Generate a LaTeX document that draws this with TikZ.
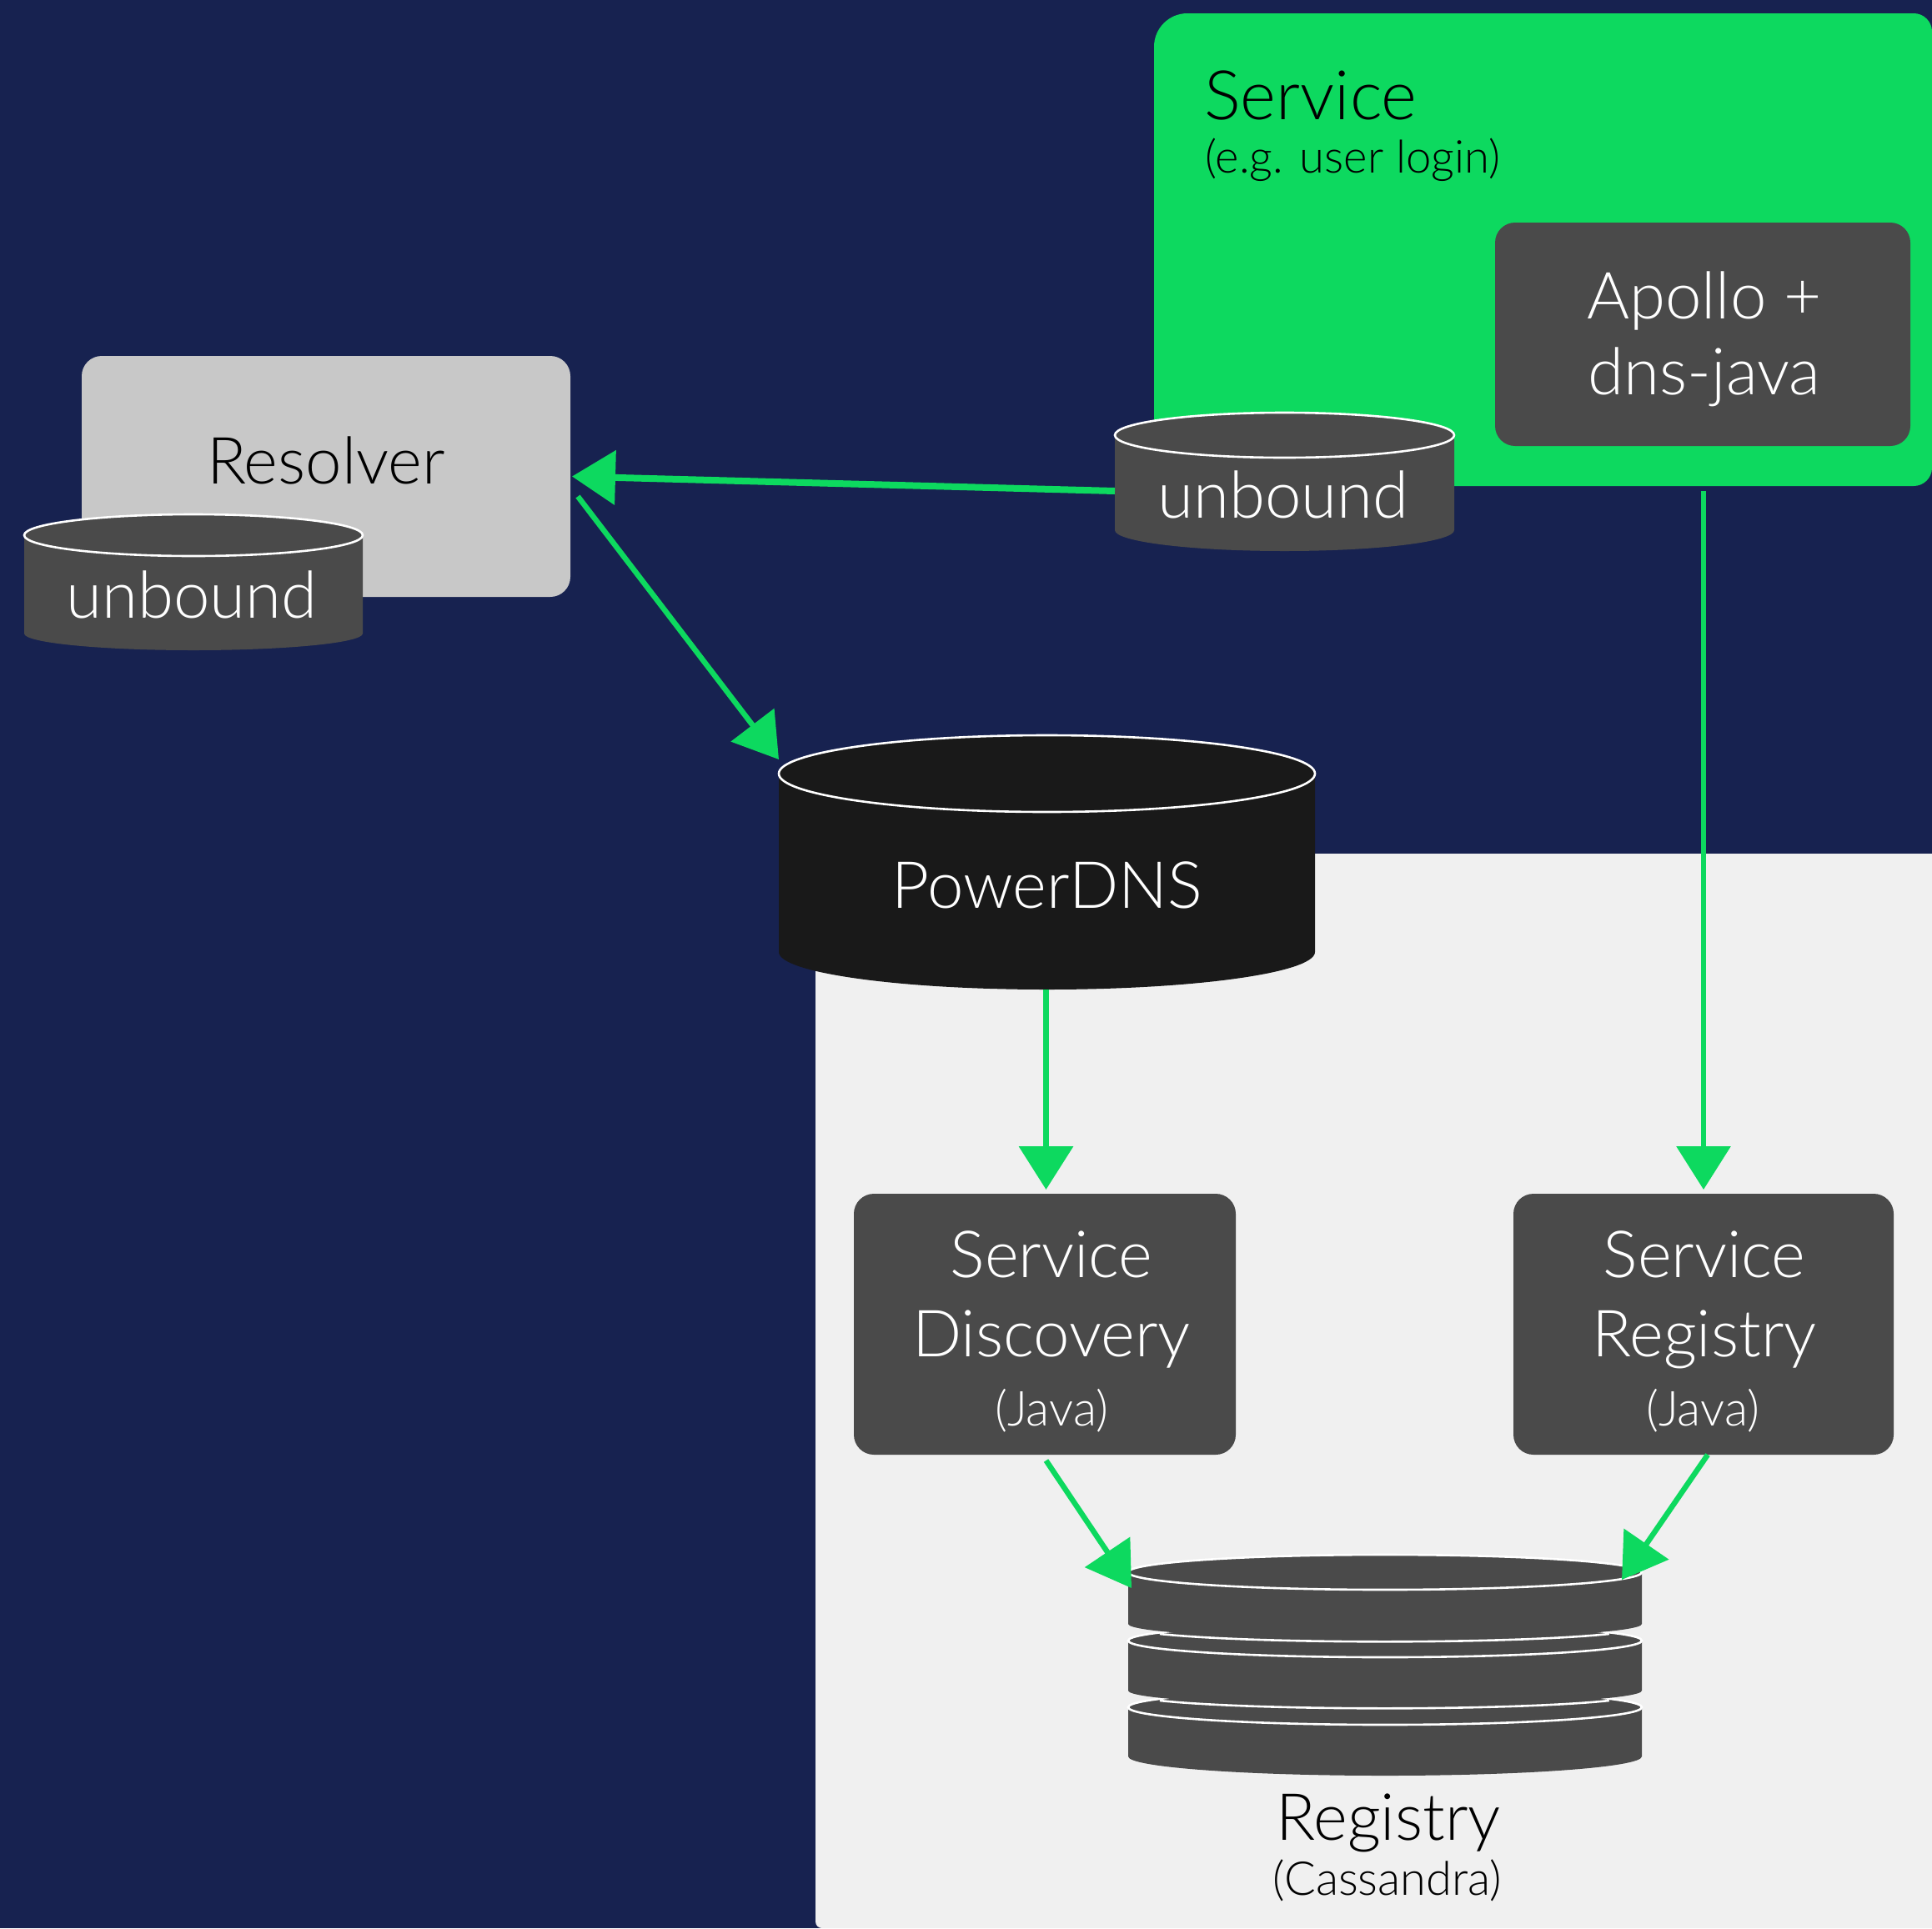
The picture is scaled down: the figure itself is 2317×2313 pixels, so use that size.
\documentclass[tikz,border=0pt]{standalone}
\usepackage{fontspec}
\setmainfont{Lato Light}
\usetikzlibrary{arrows.meta}
\definecolor{navy}{HTML}{172250}
\definecolor{grn}{HTML}{0DD95F}
\definecolor{dgrey}{HTML}{4A4A4A}
\definecolor{blk}{HTML}{191919}
\definecolor{lgrey}{HTML}{C8C8C8}
\definecolor{panel}{HTML}{F0F0F0}
\tikzset{
  big/.style={font=\fontsize{78}{91}\selectfont,inner sep=0pt,align=center},
  small/.style={font=\fontsize{56}{60}\selectfont,inner sep=0pt,align=center},
  smaller/.style={font=\fontsize{58}{60}\selectfont,inner sep=0pt,align=center},
  lbl/.style={anchor=base,text=white},
  lbd/.style={anchor=base,text=black},
  darkbox/.style={fill=dgrey,rounded corners=24pt,inner sep=0pt,outer sep=0pt},
  hold/.style={inner sep=0pt,outer sep=0pt},
  rim/.style={draw=white,line width=2.6pt},
  flow/.style={draw=grn,line width=#1,-{Triangle[length=52pt,width=64pt,fill=grn]}},
}
% \cyl{name}{xl}{xr}{ymid}{ry}{ysidebottom}{ybottom}{colour}
\newcommand{\cyl}[8]{%
  \pgfmathsetmacro{\cylR}{(#3-#2)/2}%
  \pgfmathsetmacro{\cylB}{#7-#6}%
  \pgfmathsetmacro{\cylC}{(#3+#2)/2}%
  \pgfmathsetmacro{\cylT}{#4-#5}%
  \pgfmathsetmacro{\cylM}{(\cylT+#7)/2}%
  \pgfmathsetmacro{\cylW}{#3-#2}%
  \pgfmathsetmacro{\cylH}{#7-\cylT}%
  \fill[#8] (#2,#4) arc[start angle=180,end angle=0,x radius=\cylR pt,y radius=#5pt]
     -- (#3,#6) arc[start angle=0,end angle=-180,x radius=\cylR pt,y radius=\cylB pt] -- cycle;
  \draw[rim] (\cylC,#4) ellipse[x radius=\cylR pt,y radius=#5pt];
  \node[hold,minimum width=\cylW pt,minimum height=\cylH pt] (#1) at (\cylC,\cylM) {};
}
\begin{document}
\begin{tikzpicture}[x=1pt,y=-1pt]
\useasboundingbox (0,0) rectangle (2317,2313);
\fill[navy] (0,0) rectangle (2317,2313);
% panel
\fill[panel] (2317,1024) -- (978,1024) [rounded corners=8pt] -- (978,2313) -- (1100,2313) [sharp corners] -- (2317,2313) -- cycle;
% service area
\fill[grn] (1384,300) [rounded corners=40pt] -- (1384,16) [rounded corners=22pt] -- (2317,16) -- (2317,583) -- (1900,583) [sharp corners] -- (1384,583) -- cycle;
\node[inner sep=0pt,font=\fontsize{82}{91}\selectfont,anchor=base west,text=black] (svc) at (1444,143) {Service};
\node[inner sep=0pt,font=\fontsize{54.4}{60}\selectfont,anchor=base west,text=black] (svcsub) at (1445,207) {(e.g. user login)};
\node[darkbox,minimum width=498pt,minimum height=268pt] (apollo) at (2042,401) {};
\node[big,lbl] (apollot) at (2044,382) {Apollo +};
\node[big,lbl] (apollou) at (2044,473) {dns-java};
% resolver
\node[fill=lgrey,rounded corners=24pt,hold,minimum width=586pt,minimum height=289pt] (resolver) at (391,571.5) {};
\node[big,lbd] (resolvert) at (391,580) {Resolver};
\cyl{unbL}{29}{435}{642}{25}{760}{780}{dgrey}
\node[big,lbl] (unbLt) at (230,741) {unbound};
\cyl{unbR}{1337}{1744}{522}{27}{636}{661}{dgrey}
\node[big,lbl] (unbRt) at (1539,621) {unbound};
% PowerDNS
\cyl{pdns}{934}{1577}{928}{46}{1142}{1187}{blk}
\node[big,lbl] (pdnst) at (1256,1089) {PowerDNS};
% boxes
\node[darkbox,minimum width=458pt,minimum height=313pt] (sd) at (1253,1588.5) {};
\node[big,lbl] (sdA) at (1261,1532) {Service};
\node[big,lbl] (sdB) at (1261,1627) {Discovery};
\node[smaller,lbl] (sdC) at (1261,1710) {(Java)};
\node[darkbox,minimum width=456pt,minimum height=313pt] (sr) at (2043,1588.5) {};
\node[big,lbl] (srA) at (2044,1532) {Service};
\node[big,lbl] (srB) at (2044,1627) {Registry};
\node[smaller,lbl] (srC) at (2042,1710) {(Java)};
% registry disks
\cyl{dkC}{1353}{1969}{2048}{21}{2107}{2130}{dgrey}
\cyl{dkB}{1353}{1969}{1968}{20}{2028}{2046}{dgrey}
\draw[rim] (1391,2040) arc[start angle=209,end angle=331,x radius=308pt,y radius=18pt];
\cyl{dkA}{1353}{1969}{1886}{21}{1948}{1966}{dgrey}
\draw[rim] (1391,1960) arc[start angle=209,end angle=331,x radius=308pt,y radius=18pt];
\node[hold,minimum width=616pt,minimum height=264pt] (registry) at (1661,1998) {};
\node[big,lbd] (regt) at (1665,2207) {Registry};
\node[small,lbd] (regs) at (1664,2273) {(Cassandra)};
% connectors
\draw[flow=8pt] ([yshift=-11pt]unbR.west) -- ([xshift=2pt]resolver.east);
\draw[flow=6.5pt] ([shift={(9pt,-24pt)}]resolver.east) -- ([yshift=-29pt]pdns.north west);
\draw[flow=7pt] ([xshift=-1pt]pdns.south) -- ([shift={(-1pt,5pt)}]sd.north -| pdns.south);
\draw[flow=6.5pt] ([shift={(1pt,-54pt)}]apollo.south) -- ([shift={(1pt,5pt)}]sr.north -| apollo.south);
\draw[flow=6.5pt] ([shift={(-1pt,-7pt)}]sd.south -| pdns.south) -- ([shift={(4pt,-39pt)}]registry.north west);
\draw[flow=6.5pt] ([xshift=5pt]sr.south) -- ([shift={(-24pt,-29pt)}]registry.north east);
\end{tikzpicture}
\end{document}
